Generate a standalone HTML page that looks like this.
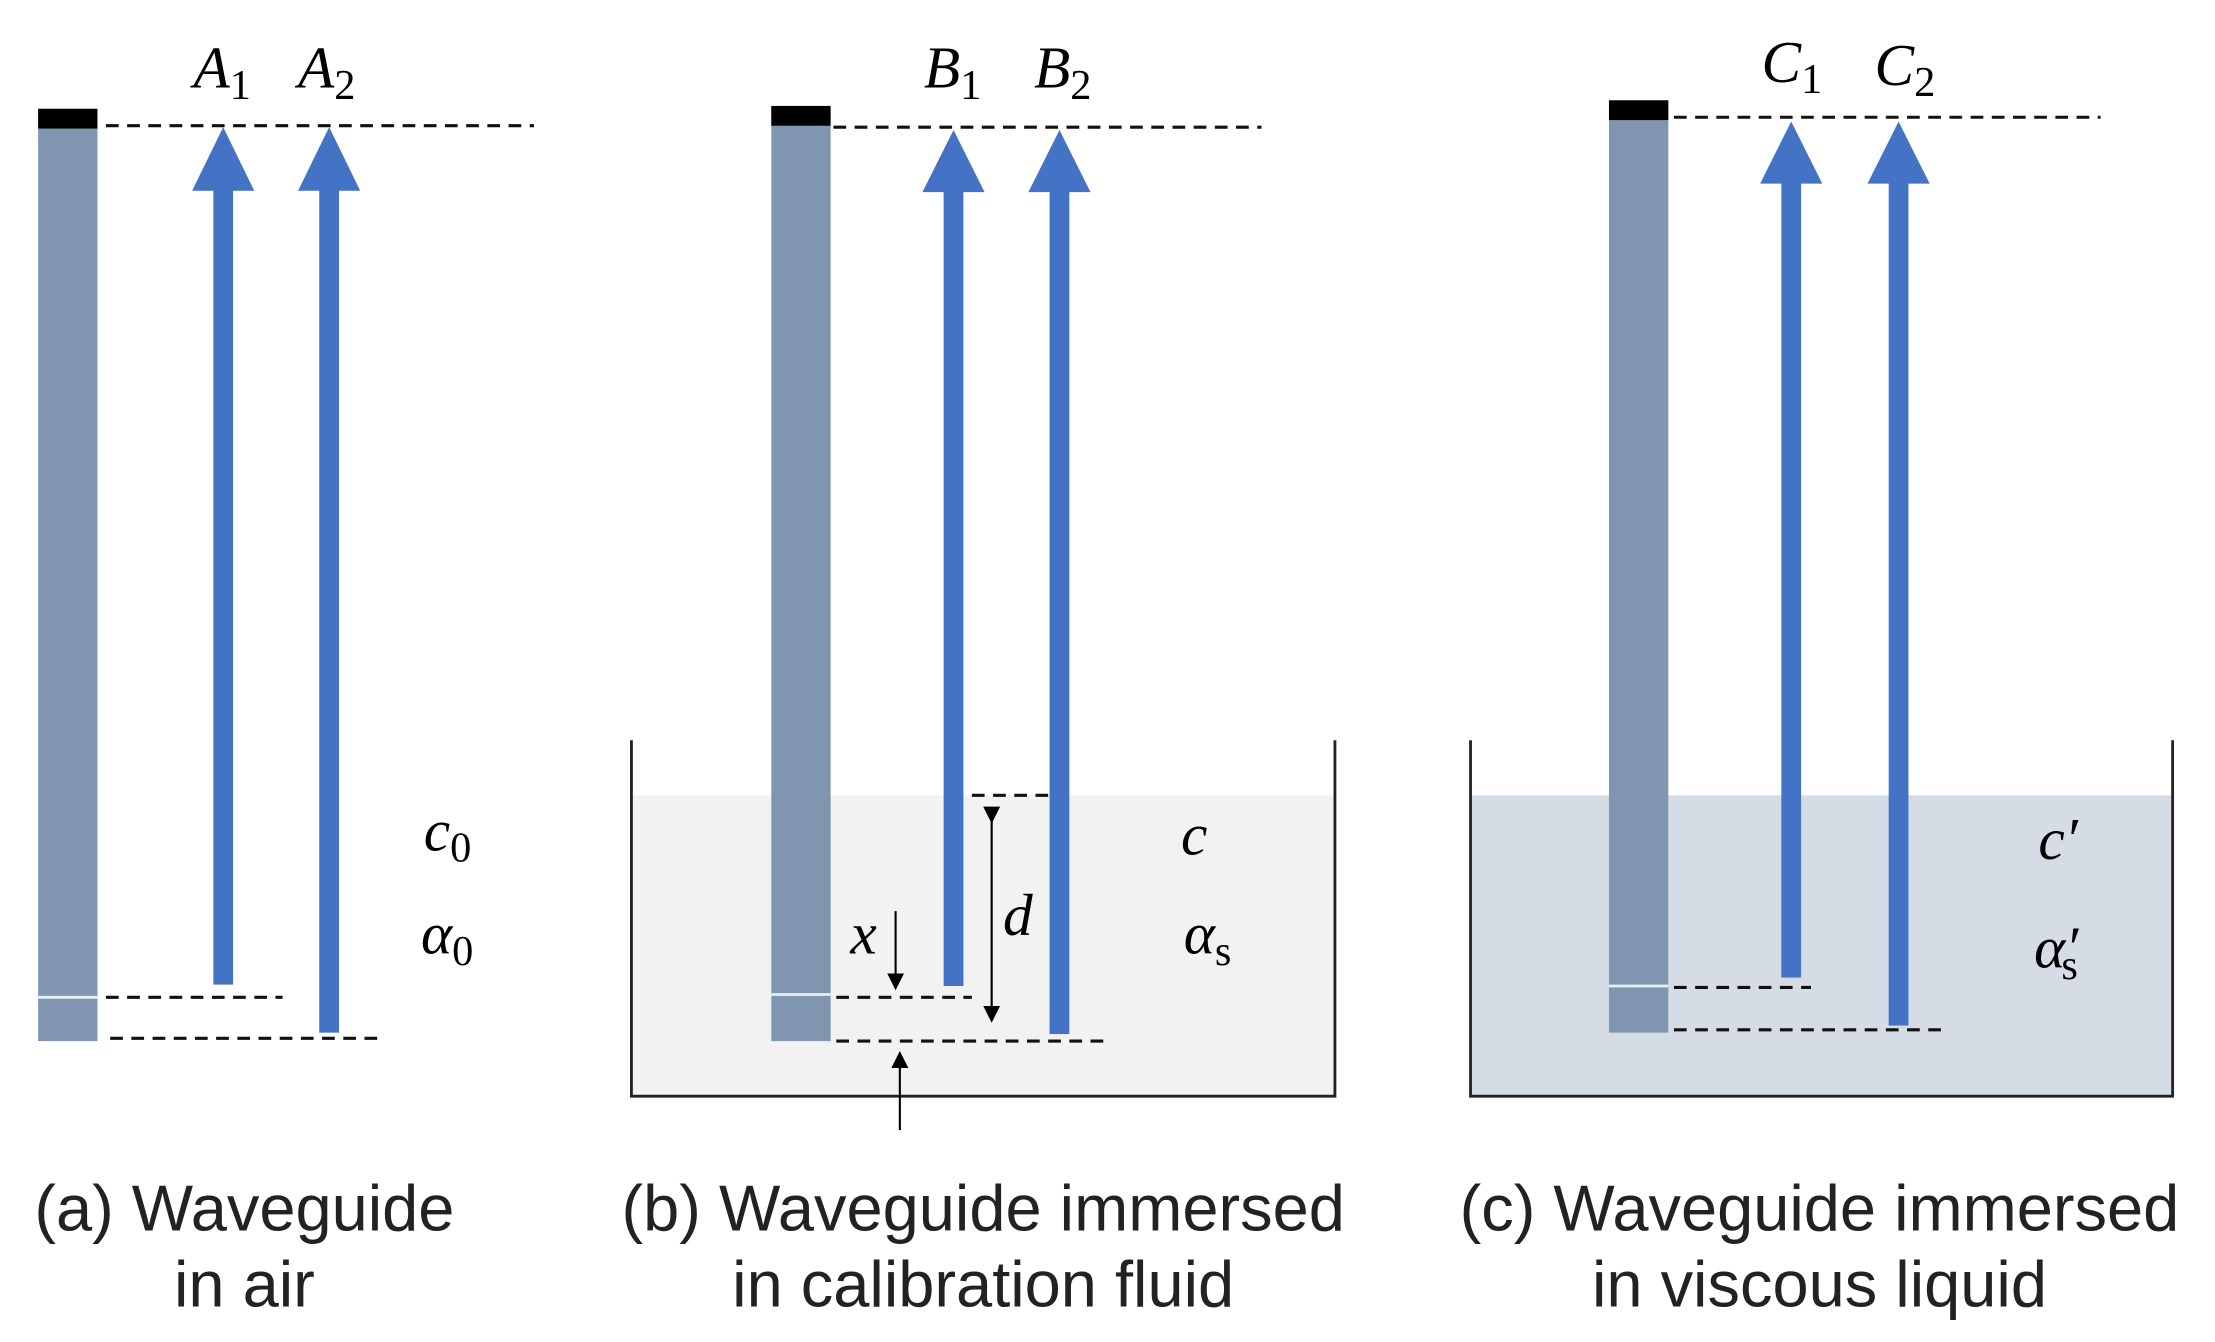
<!DOCTYPE html>
<html><head><meta charset="utf-8"><style>
html,body{margin:0;padding:0;background:#fff;}
svg{display:block;}
.m{font-family:"Liberation Serif",serif;font-style:italic;font-size:42px;fill:#000;}
.s{font-style:normal;font-size:30px;}
.cap{font-family:"Liberation Sans",sans-serif;font-size:46px;fill:#222;}
</style></head><body>
<svg width="2215" height="1342" viewBox="0 0 1568 950" preserveAspectRatio="none" xmlns="http://www.w3.org/2000/svg">
<defs>
<marker id="ah" markerWidth="12" markerHeight="12" refX="6" refY="6" orient="auto" markerUnits="userSpaceOnUse" viewBox="0 0 12 12"><path d="M0,0 L12,6 L0,12 z" fill="#000"/></marker>
</defs>
<rect width="1568" height="950" fill="#fff"/>
<!-- Panel a -->
<rect x="27" y="77" width="42" height="660" fill="#8096b0"/>
<rect x="27" y="77" width="42" height="14" fill="#000"/>
<line x1="27" y1="706" x2="69" y2="706" stroke="#e8eef5" stroke-width="2"/>
<g stroke="#111" stroke-width="2.2" stroke-dasharray="9,6" fill="none">
<line x1="75" y1="89" x2="378" y2="89"/>
<line x1="75" y1="706" x2="200" y2="706"/>
<line x1="78" y1="735" x2="270" y2="735"/>
</g>
<g fill="#4472c4">
<rect x="151" y="130" width="14" height="567"/><path d="M136,135 L158,90 L180,135 z"/>
<rect x="226" y="130" width="14" height="601"/><path d="M211,135 L233,90 L255,135 z"/>
</g>
<text class="m" x="137" y="62">A<tspan class="s" dy="8">1</tspan></text>
<text class="m" x="211" y="62">A<tspan class="s" dy="8">2</tspan></text>
<text class="m" x="300" y="602">c<tspan class="s" dy="8">0</tspan></text>
<text class="m" x="298" y="675">α<tspan class="s" dy="8">0</tspan></text>
<text class="cap" x="173" y="871" text-anchor="middle">(a) Waveguide</text>
<text class="cap" x="173" y="925" text-anchor="middle">in air</text>
<!-- Panel b -->
<rect x="448" y="563" width="497" height="213" fill="#f2f2f2"/>
<path d="M447,524 L447,776 L945,776 L945,524" stroke="#222" stroke-width="2" fill="none"/>
<rect x="546" y="75" width="42" height="662" fill="#8096b0"/>
<rect x="546" y="75" width="42" height="14" fill="#000"/>
<line x1="546" y1="704" x2="588" y2="704" stroke="#e8eef5" stroke-width="2"/>
<g stroke="#111" stroke-width="2.2" stroke-dasharray="9,6" fill="none">
<line x1="590" y1="90" x2="893" y2="90"/>
<line x1="688" y1="563" x2="745" y2="563"/>
<line x1="592" y1="706" x2="688" y2="706"/>
<line x1="592" y1="737" x2="785" y2="737"/>
</g>
<g fill="#4472c4">
<rect x="668" y="130" width="14" height="568"/><path d="M653,136 L675,92 L697,136 z"/>
<rect x="743" y="130" width="14" height="602"/><path d="M728,136 L750,92 L772,136 z"/>
</g>
<g stroke="#000" stroke-width="1.5">
<line x1="702" y1="577" x2="702" y2="718" marker-start="url(#ah)" marker-end="url(#ah)"/>
<line x1="634" y1="645" x2="634" y2="695" marker-end="url(#ah)"/>
<line x1="637" y1="800" x2="637" y2="750" marker-end="url(#ah)"/>
</g>
<text class="m" x="602" y="675">x</text>
<text class="m" x="710" y="662">d</text>
<text class="m" x="836" y="605">c</text>
<text class="m" x="838" y="675">α<tspan class="s" dy="8">s</tspan></text>
<text class="m" x="654" y="62">B<tspan class="s" dy="8">1</tspan></text>
<text class="m" x="732" y="62">B<tspan class="s" dy="8">2</tspan></text>
<text class="cap" x="696" y="871" text-anchor="middle">(b) Waveguide immersed</text>
<text class="cap" x="696" y="925" text-anchor="middle">in calibration fluid</text>
<!-- Panel c -->
<rect x="1042" y="563" width="496" height="213" fill="#d6dce5"/>
<path d="M1041,524 L1041,776 L1538,776 L1538,524" stroke="#222" stroke-width="2" fill="none"/>
<rect x="1139" y="71" width="42" height="660" fill="#8096b0"/>
<rect x="1139" y="71" width="42" height="14" fill="#000"/>
<line x1="1139" y1="698" x2="1181" y2="698" stroke="#e8eef5" stroke-width="2"/>
<g stroke="#111" stroke-width="2.2" stroke-dasharray="9,6" fill="none">
<line x1="1185" y1="83" x2="1487" y2="83"/>
<line x1="1185" y1="699" x2="1282" y2="699"/>
<line x1="1185" y1="729" x2="1378" y2="729"/>
</g>
<g fill="#4472c4">
<rect x="1261" y="125" width="14" height="567"/><path d="M1246,130 L1268,86 L1290,130 z"/>
<rect x="1337" y="125" width="14" height="601"/><path d="M1322,130 L1344,86 L1366,130 z"/>
</g>
<text class="m" x="1247" y="58">C<tspan class="s" dy="8">1</tspan></text>
<text class="m" x="1327" y="60">C<tspan class="s" dy="8">2</tspan></text>
<text class="m" x="1443" y="608">c′</text>
<text class="m" x="1440" y="685">α′<tspan class="s" dy="8" dx="-12">s</tspan></text>
<text class="cap" x="1288" y="871" text-anchor="middle">(c) Waveguide immersed</text>
<text class="cap" x="1288" y="925" text-anchor="middle">in viscous liquid</text>
</svg>
</body></html>
